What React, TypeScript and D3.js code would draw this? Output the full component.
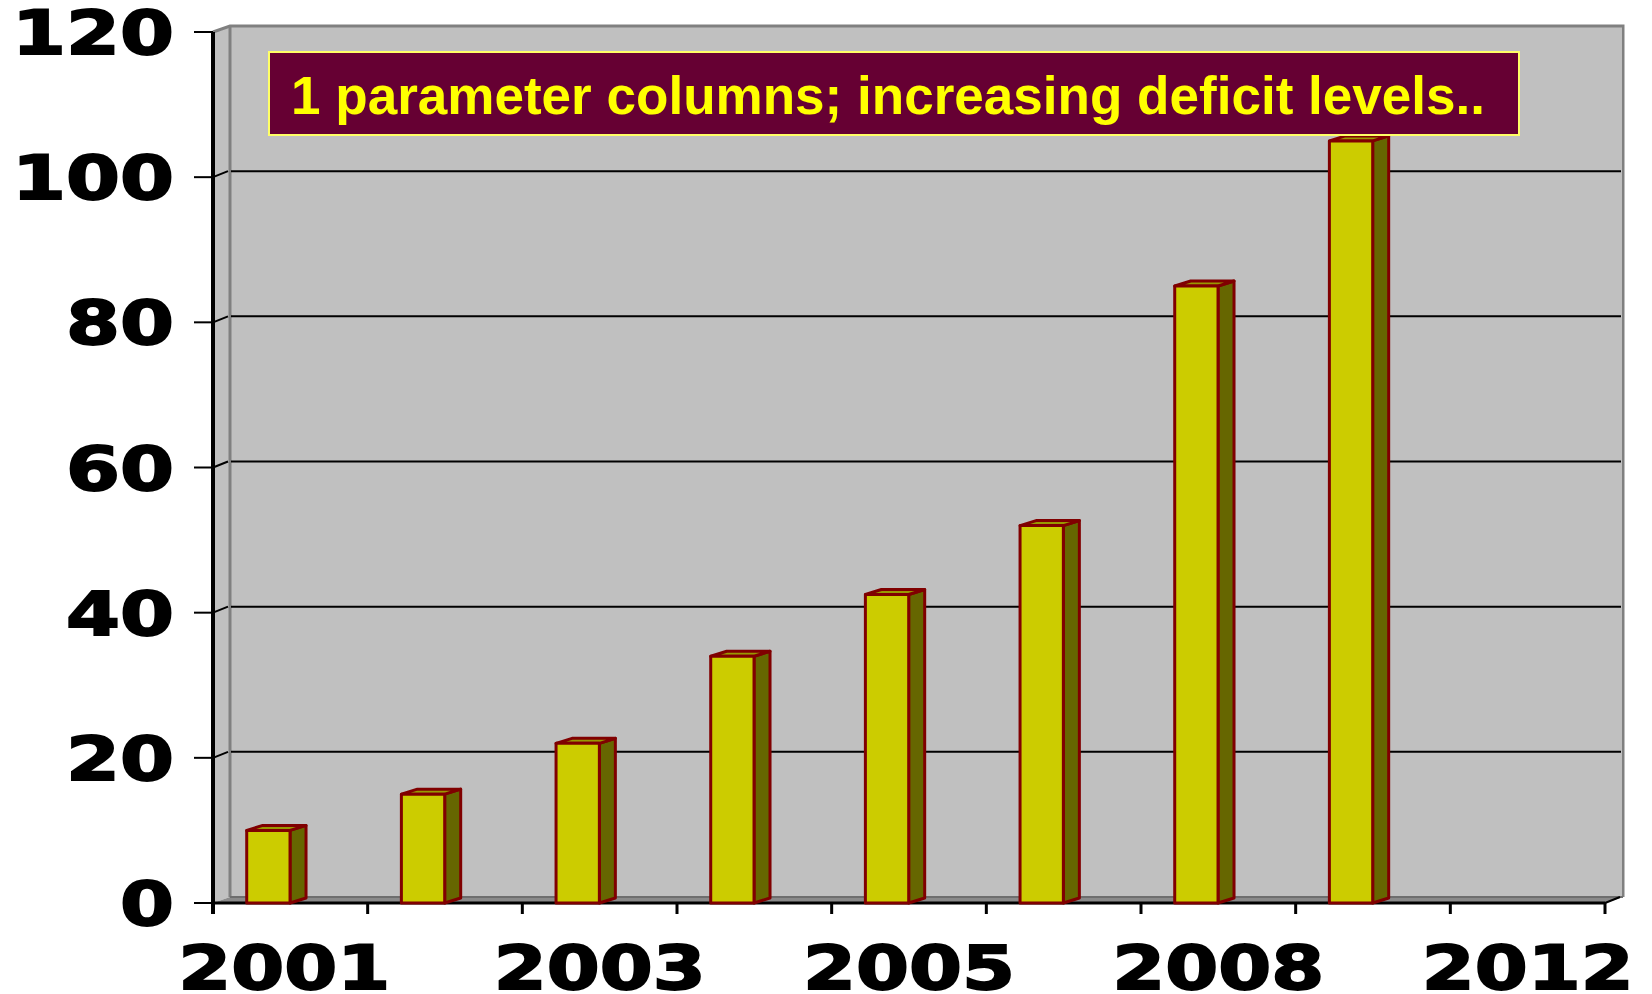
import React from "react";
import * as d3 from "d3";

const categories = ["2001", "2002", "2003", "2004", "2005", "2006", "2008", "2010", "2012"];
const shownLabels = ["2001", "2003", "2005", "2008", "2012"];
const values = [10, 15, 22, 34, 42.5, 52, 85, 105];
const yTicks = [0, 20, 40, 60, 80, 100, 120];
const title = "1 parameter columns; increasing deficit levels..";

const W = 1652;
const H = 994;
const plotLeft = 213;
const plotRight = 1605;
const yBottom = 903;
const yTop = 32;
const depthX = 17;
const depthY = -6;
const barDX = 16;
const barDY = -5;

export default function App() {
  const y = d3.scaleLinear().domain([0, 120]).range([yBottom, yTop]);
  const x = d3.scaleBand<string>().domain(categories).range([plotLeft, plotRight]).paddingInner(0).paddingOuter(0);
  const bw = x.bandwidth();
  const backL = plotLeft + depthX;
  const backR = plotRight + depthX - 1;
  const backTop = y(120) + depthY;
  const backBottom = y(0) + depthY;
  const boundaries = categories.map((c) => x(c) as number).concat([plotRight]);

  const labelFont = "'DejaVu Sans', Verdana, sans-serif";

  return (
    <svg width={W} height={H} style={{ position: "absolute", left: 0, top: 0, background: "#fff" }}>
      {/* side wall */}
      <polygon
        points={`${plotLeft},${y(120)} ${backL},${backTop} ${backL},${backBottom} ${plotLeft},${y(0)}`}
        fill="#C0C0C0"
      />
      {/* back wall */}
      <rect x={backL} y={backTop} width={backR - backL} height={backBottom - backTop} fill="#C0C0C0" />
      {/* floor */}
      <polygon
        points={`${plotLeft},${y(0)} ${backL},${backBottom} ${backR + 2},${backBottom} ${plotRight},${y(0)}`}
        fill="#8a8a8a"
      />
      {/* wall edges */}
      <polyline
        points={`${plotLeft},${y(120)} ${backL},${backTop} ${backR + 2},${backTop} ${backR + 2},${backBottom}`}
        fill="none"
        stroke="#808080"
        strokeWidth={3}
      />
      <line x1={backL} y1={backTop} x2={backL} y2={backBottom} stroke="#808080" strokeWidth={3} />
      <line x1={backL} y1={backBottom} x2={backR + 2} y2={backBottom} stroke="#6e6e6e" strokeWidth={2} />

      {/* gridlines */}
      {yTicks
        .filter((t) => t > 0 && t < 120)
        .map((t) => (
          <g key={"g" + t}>
            <line x1={backL + 1} y1={y(t) + depthY} x2={backR} y2={y(t) + depthY} stroke="#000" strokeWidth={2} />
            <line x1={plotLeft} y1={y(t)} x2={backL - 2} y2={y(t) + depthY} stroke="#000" strokeWidth={2} />
          </g>
        ))}

      {/* y ticks */}
      {yTicks.map((t) => (
        <line key={"yt" + t} x1={194} y1={y(t)} x2={plotLeft} y2={y(t)} stroke="#000" strokeWidth={2} />
      ))}

      {/* x axis */}
      <line x1={plotLeft} y1={y(0)} x2={plotRight} y2={y(0)} stroke="#000" strokeWidth={3} />
      <line x1={plotRight} y1={y(0)} x2={plotRight + depthX - 2} y2={y(0) + depthY} stroke="#000" strokeWidth={2} />
      {boundaries.map((b, i) => (
        <line key={"xt" + i} x1={b} y1={y(0)} x2={b} y2={y(0) + 11} stroke="#000" strokeWidth={3} />
      ))}

      {/* y axis */}
      <line x1={plotLeft} y1={y(120)} x2={plotLeft} y2={y(0) + 11} stroke="#000" strokeWidth={4} />

      {/* bars */}
      {values.map((v, i) => {
        const x0 = (x(categories[i]) as number) + bw * 0.218;
        const x1 = x0 + bw * 0.28;
        const yt = y(v);
        const yb = y(0);
        return (
          <g key={"b" + i} stroke="#800000" strokeWidth={3} strokeLinejoin="round">
            <polygon
              points={`${x1},${yt} ${x1 + barDX},${yt + barDY} ${x1 + barDX},${yb + barDY} ${x1},${yb}`}
              fill="#666600"
            />
            <polygon
              points={`${x0},${yt} ${x0 + barDX},${yt + barDY} ${x1 + barDX},${yt + barDY} ${x1},${yt}`}
              fill="#999900"
            />
            <rect x={x0} y={yt} width={x1 - x0} height={yb - yt} fill="#CCCC00" />
          </g>
        );
      })}

      {/* y labels */}
      {yTicks.map((t) => {
        const s = String(t);
        return (
          <text
            key={"yl" + t}
            x={174}
            y={y(t) + 22}
            textAnchor="end"
            fontFamily={labelFont}
            fontWeight="bold"
            fontSize={60}
            textLength={s.length * 54}
            lengthAdjust="spacingAndGlyphs"
            fill="#000"
            stroke="#000"
            strokeWidth={1.8}
          >
            {s}
          </text>
        );
      })}

      {/* x labels */}
      {categories.map((c, i) =>
        shownLabels.includes(c) ? (
          <text
            key={"xl" + c}
            x={(x(c) as number) + bw / 2 - (i === 0 ? 6 : 0)}
            y={989}
            textAnchor="middle"
            fontFamily={labelFont}
            fontWeight="bold"
            fontSize={60}
            textLength={c.length * 53}
            lengthAdjust="spacingAndGlyphs"
            fill="#000"
            stroke="#000"
            strokeWidth={1.8}
          >
            {c}
          </text>
        ) : null
      )}

      {/* title box */}
      <rect x={269} y={52} width={1250} height={83} fill="#660033" stroke="#FFFF66" strokeWidth={2} />
      <text
        x={291}
        y={114}
        fontFamily="'Liberation Sans', Arial, sans-serif"
        fontWeight="bold"
        fontSize={54}
        fill="#FFFF00"
        textLength={1194}
        lengthAdjust="spacingAndGlyphs"
      >
        {title}
      </text>
    </svg>
  );
}
